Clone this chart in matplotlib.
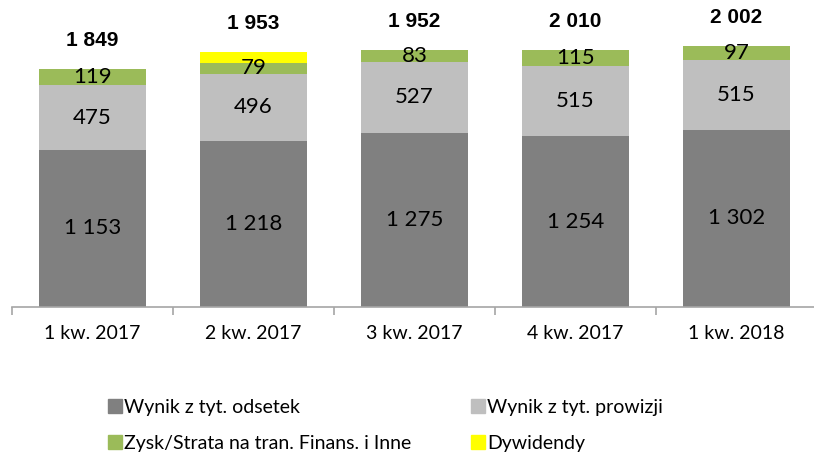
import matplotlib
matplotlib.use("Agg")
import matplotlib.pyplot as plt
from matplotlib.lines import Line2D
import numpy as np

categories = ["1 kw. 2017", "2 kw. 2017", "3 kw. 2017", "4 kw. 2017", "1 kw. 2018"]
odsetki = [1153, 1218, 1275, 1254, 1302]
prowizje = [475, 496, 527, 515, 515]
zysk_inne = [119, 79, 83, 115, 97]
dywidendy = [0, 76, 0, 0, 0]
totals = [1849, 1953, 1952, 2010, 2002]

series_names = ["Wynik z tyt. odsetek", "Wynik z tyt. prowizji",
                "Zysk/Strata na tran. Finans. i Inne", "Dywidendy"]
colors = ["#808080", "#BFBFBF", "#9BBB59", "#FFFF00"]

FONT = ["Lato", "DejaVu Sans"]

fig = plt.figure(figsize=(8.14, 4.54), dpi=100)
ax = fig.add_axes([12/814, 147/454, 805/814, 307/454])

x = np.arange(len(categories))
width = 0.665
bottom = np.zeros(len(categories))
all_series = [odsetki, prowizje, zysk_inne, dywidendy]
for vals, col, name in zip(all_series, colors, series_names):
    vals = np.array(vals, dtype=float)
    ax.bar(x, vals, width, bottom=bottom, color=col, label=name)
    # value labels (no labels on dividends)
    if name != "Dywidendy":
        for xi, b, v in zip(x, bottom, vals):
            txt = "{:,}".format(int(v)).replace(",", " ")
            ax.text(xi, b + v / 2, txt, ha="center", va="center",
                    fontsize=16, family=FONT, color="black")
    bottom += vals

# totals above bars
for xi, top, t in zip(x, bottom, totals):
    ax.annotate("{:,}".format(t).replace(",", " "), (xi, top),
                xytext=(0, 14), textcoords="offset points",
                ha="center", va="bottom", fontsize=15, fontweight="bold",
                family=["Liberation Sans", "DejaVu Sans"])

ax.set_xlim(-0.5, 4.5)
ax.set_ylim(0, 2254)
for s in ["top", "right", "left"]:
    ax.spines[s].set_visible(False)
ax.spines["bottom"].set_color("#A6A6A6")
ax.spines["bottom"].set_linewidth(1.2)
ax.set_yticks([])
ax.set_xticks(np.arange(-0.5, 4.6, 1.0))
ax.set_xticklabels([])
ax.set_xticks(x, minor=True)
ax.set_xticklabels(categories, minor=True, fontsize=14, family=FONT)
ax.tick_params(axis="x", which="major", length=6, width=1.2, color="#A6A6A6")
ax.tick_params(axis="x", which="minor", length=0, pad=13)

handles = [Line2D([], [], marker="s", linestyle="none", markersize=9.5,
                  markerfacecolor=c, markeredgecolor=c) for c in colors]
order = [0, 2, 1, 3]
leg = fig.legend([handles[i] for i in order], [series_names[i] for i in order],
                 ncol=2, loc="upper left", bbox_to_anchor=(97/814, 1 - 389/454),
                 frameon=False, handletextpad=0.1, handlelength=0.8,
                 columnspacing=3.0, labelspacing=1.0, borderpad=0,
                 prop={"family": FONT, "size": 14})

fig.savefig("out.png", dpi=100)
